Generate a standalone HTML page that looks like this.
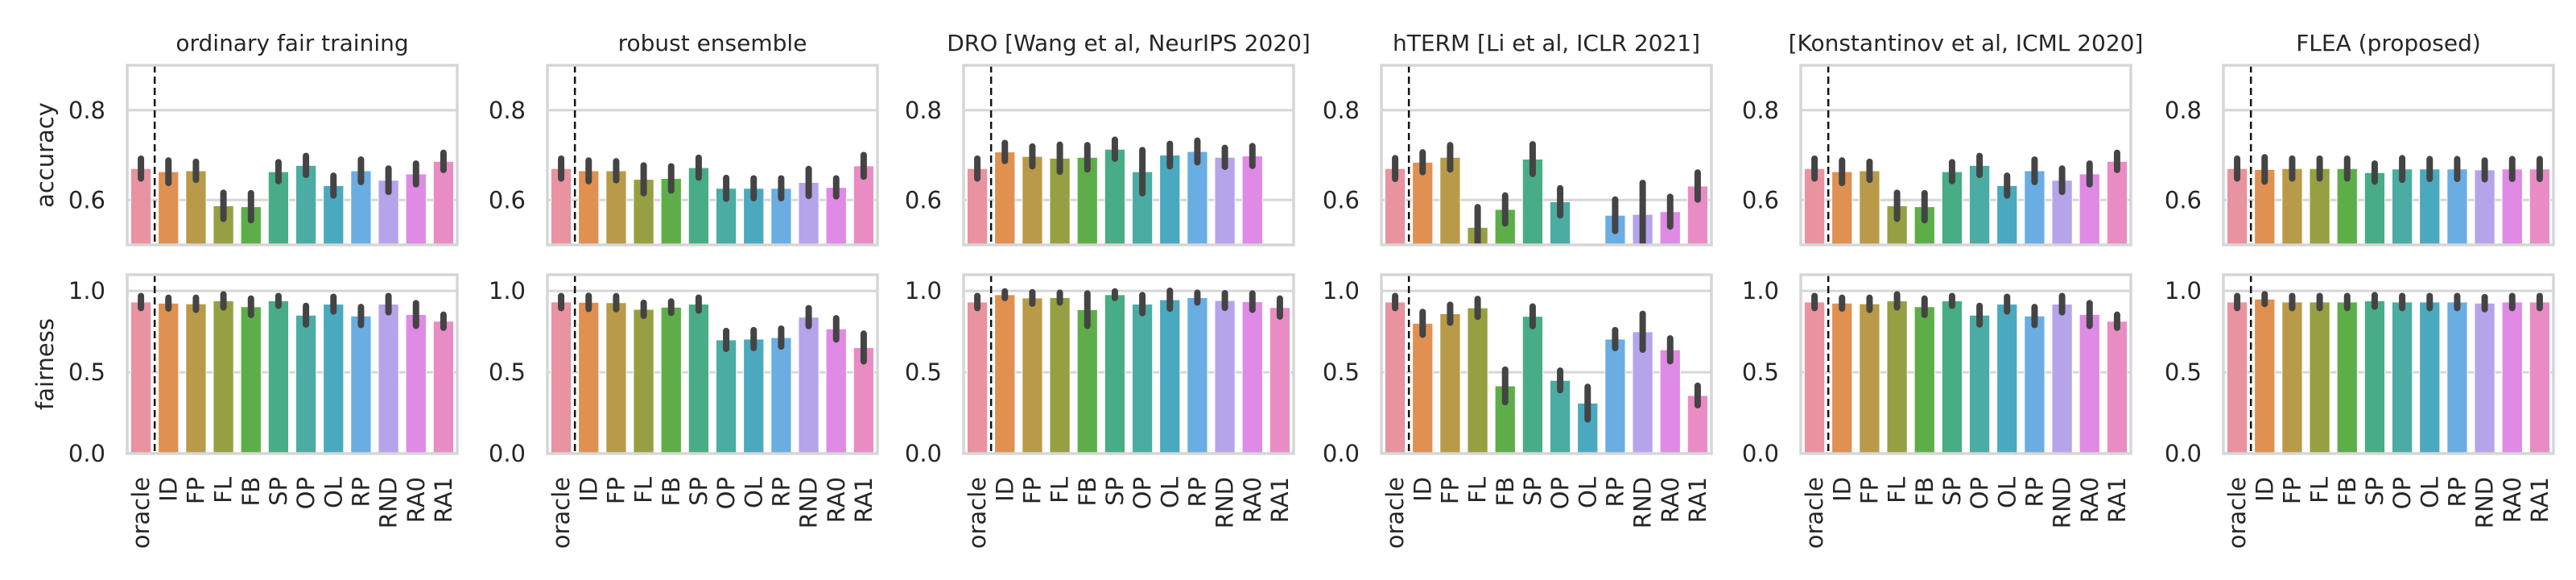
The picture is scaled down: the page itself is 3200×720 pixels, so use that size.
<!DOCTYPE html>
<html><head><meta charset="utf-8"><style>
html,body{margin:0;padding:0;background:#fff;}
svg{display:block;font-family:"DejaVu Sans","Liberation Sans",sans-serif;}
</style></head><body>
<svg id="chart" width="3200" height="720" viewBox="0 0 3200 720" xmlns="http://www.w3.org/2000/svg"></svg>
<script>
const categories = ["oracle","ID","FP","FL","FB","SP","OP","OL","RP","RND","RA0","RA1"];
const colors = ["#e8939f","#e09050","#b89a48","#96a042","#5dae48","#48ad86","#4aaca3","#4aa9bf","#6aade2","#b5a4ea","#df8ae5","#e98cc4"];
const methods = ["ordinary fair training","robust ensemble","DRO [Wang et al, NeurIPS 2020]","hTERM [Li et al, ICLR 2021]","[Konstantinov et al, ICML 2020]","FLEA (proposed)"];
const accOrdinary = [0.670,0.663,0.665,0.587,0.585,0.663,0.677,0.632,0.665,0.644,0.658,0.686];
const accOrdinaryErr = [0.022,0.025,0.020,0.029,0.030,0.021,0.021,0.022,0.025,0.026,0.023,0.019];
const accRobust = [0.670,0.665,0.665,0.646,0.648,0.672,0.626,0.626,0.626,0.639,0.628,0.676];
const accRobustErr = [0.022,0.023,0.021,0.031,0.027,0.022,0.023,0.022,0.022,0.030,0.020,0.024];
const accDRO = [0.670,0.707,0.697,0.693,0.695,0.713,0.663,0.700,0.708,0.695,0.698,null];
const accDROErr = [0.022,0.020,0.022,0.030,0.027,0.021,0.048,0.025,0.024,0.021,0.022,0];
const accTERM = [0.670,0.684,0.695,0.539,0.579,0.691,0.596,null,0.566,0.568,0.574,0.631];
const accTERMErr = [0.023,0.022,0.027,0.045,0.031,0.033,0.030,0,0.035,0.070,0.033,0.030];
const accKonst = [0.670,0.663,0.665,0.587,0.585,0.663,0.677,0.632,0.665,0.644,0.658,0.686];
const accKonstErr = [0.022,0.025,0.020,0.029,0.030,0.021,0.021,0.022,0.025,0.026,0.023,0.019];
const accFLEA = [0.670,0.668,0.670,0.670,0.670,0.661,0.669,0.669,0.669,0.667,0.669,0.669];
const accFLEAErr = [0.022,0.027,0.022,0.022,0.022,0.020,0.024,0.022,0.022,0.021,0.022,0.022];
const fairOrdinary = [0.932,0.925,0.921,0.939,0.903,0.939,0.851,0.919,0.846,0.919,0.855,0.814];
const fairOrdinaryErr = [0.037,0.033,0.037,0.040,0.050,0.030,0.057,0.045,0.055,0.050,0.070,0.040];
const fairRobust = [0.932,0.930,0.928,0.887,0.900,0.919,0.699,0.704,0.713,0.839,0.767,0.652];
const fairRobustErr = [0.037,0.040,0.040,0.040,0.035,0.040,0.055,0.055,0.055,0.055,0.065,0.085];
const fairDRO = [0.932,0.977,0.957,0.959,0.885,0.977,0.919,0.946,0.959,0.941,0.934,0.898];
const fairDROErr = [0.037,0.020,0.035,0.030,0.100,0.020,0.055,0.055,0.030,0.045,0.050,0.055];
const fairTERM = [0.932,0.801,0.860,0.896,0.416,0.844,0.450,0.310,0.704,0.749,0.638,0.357];
const fairTERMErr = [0.037,0.070,0.055,0.055,0.100,0.060,0.060,0.100,0.055,0.110,0.070,0.060];
const fairKonst = [0.932,0.925,0.921,0.939,0.903,0.939,0.851,0.919,0.846,0.919,0.855,0.814];
const fairKonstErr = [0.037,0.033,0.037,0.040,0.050,0.030,0.057,0.045,0.055,0.050,0.070,0.040];
const fairFLEA = [0.932,0.950,0.932,0.932,0.932,0.939,0.932,0.932,0.932,0.925,0.932,0.932];
const fairFLEAErr = [0.037,0.030,0.037,0.037,0.037,0.035,0.037,0.037,0.037,0.037,0.037,0.037];
const accTicks = [0.6,0.8];
const fairTicks = [0.0,0.5,1.0];
const accRange = [0.5,0.9];
const fairRange = [0,1.1];

const accSeries = [accOrdinary,accRobust,accDRO,accTERM,accKonst,accFLEA];
const accErrs = [accOrdinaryErr,accRobustErr,accDROErr,accTERMErr,accKonstErr,accFLEAErr];
const fairSeries = [fairOrdinary,fairRobust,fairDRO,fairTERM,fairKonst,fairFLEA];
const fairErrs = [fairOrdinaryErr,fairRobustErr,fairDROErr,fairTERMErr,fairKonstErr,fairFLEAErr];

const NS = "http://www.w3.org/2000/svg";
const svg = document.getElementById("chart");
function mk(tag, attrs, parent){ const e=document.createElementNS(NS,tag); for(const k in attrs) e.setAttribute(k,attrs[k]); (parent||svg).appendChild(e); return e; }
const defs = mk("defs", {});

const lefts = [158,680,1197,1716,2237,2762];
const W = 410;
const rows = [
  {top:81, h:223, range:accRange, ticks:accTicks, series:accSeries, errs:accErrs, label:"accuracy", name:"accuracy"},
  {top:341, h:222, range:fairRange, ticks:fairTicks, series:fairSeries, errs:fairErrs, label:"fairness", name:"fairness"}
];

methods.forEach((m, p) => {
  const L = lefts[p];
  const t = mk("text", {x:L+W/2, y:63, "text-anchor":"middle", "font-size":"28", fill:"#262626"});
  t.textContent = m;
  
  
  rows.forEach((r, ri) => {
    const cid = "clip" + p + "_" + ri;
    const cp = mk("clipPath", {id:cid}, defs);
    mk("rect", {x:L, y:r.top, width:W, height:r.h}, cp);
    const g = mk("g", {});
    
    
    const yScale = v => r.top + r.h - (v - r.range[0]) / (r.range[1] - r.range[0]) * r.h;
    const step = W / categories.length;
    const xScale = i => L + step * (i + 0.5);
    r.ticks.forEach(tv => {
      const y = yScale(tv);
      const gl = mk("line", {x1:L, x2:L+W, y1:y, y2:y, stroke:"#d6d6d6", "stroke-width":3}, g);
      
      
      const tl = mk("text", {x:L-27, y:y+10, "text-anchor":"end", "font-size":"29", fill:"#262626"}, g);
      tl.textContent = tv.toFixed(1);
      
      
    });
    const mg = mk("g", {"clip-path":`url(#${cid})`}, g);
    const vals = r.series[p], errs = r.errs[p];
    vals.forEach((v, i) => {
      if (v === null) return;
      const x = xScale(i), bw = step*0.74;
      const y0 = yScale(Math.max(v, r.range[0])), yb = r.top + r.h;
      const b = mk("rect", {x:x-bw/2, y:Math.min(y0,yb), width:bw, height:Math.abs(yb-y0), fill:colors[i], stroke:"#fff", "stroke-width":1}, mg);
      
      
      const lo = v - errs[i], hi = v + errs[i];
      const e = mk("line", {x1:x, x2:x, y1:yScale(lo), y2:yScale(hi), stroke:"#444", "stroke-width":8, "stroke-linecap":"round"}, mg);
      
      
    });
    const dl = mk("line", {x1:L+step, x2:L+step, y1:r.top, y2:r.top+r.h, stroke:"#111", "stroke-width":2.5, "stroke-dasharray":"9,5"}, g);
    
    
    const fr = mk("rect", {x:L, y:r.top, width:W, height:r.h, fill:"none", stroke:"#d6d6d6", "stroke-width":3.5}, g);
    
    
    if (p === 0) {
      const yl = mk("text", {x:0, y:0, transform:`translate(66,${r.top+r.h/2}) rotate(-90)`, "text-anchor":"middle", "font-size":"29", fill:"#262626"});
      yl.textContent = r.label;
      
      
    }
    if (ri === 1) {
      categories.forEach((c, i) => {
        const x = xScale(i);
        const xl = mk("text", {x:0, y:0, transform:`translate(${x+10},592) rotate(-90)`, "text-anchor":"end", "font-size":"29", fill:"#262626"});
        xl.textContent = c;
        
        
      });
    }
  });
});
</script>
</body></html>
